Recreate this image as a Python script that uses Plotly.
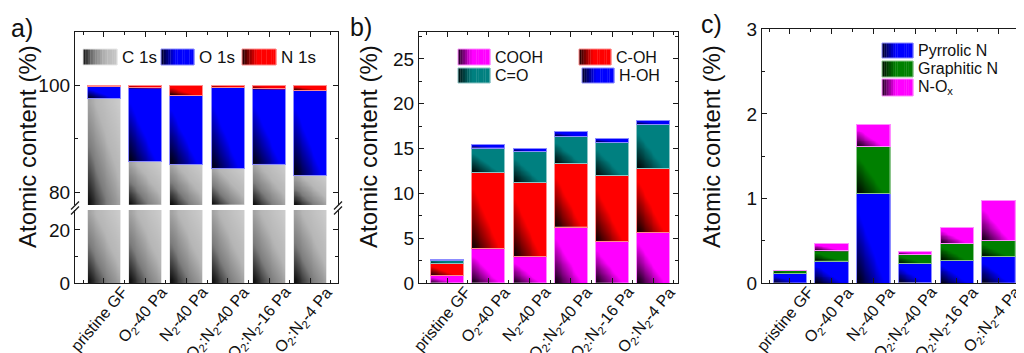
import numpy as np
import plotly.graph_objects as go

# page body has an 8px margin: the figure is drawn from (8, 8) of the 1024x353 window
OFF = 8
W, H = 1024 - OFF, 353 - OFF

# ---------------- data ----------------
categories = ['pristine GF', 'O<sub>2</sub>-40 Pa', 'N<sub>2</sub>-40 Pa',
              'O<sub>2</sub>:N<sub>2</sub>-40 Pa', 'O<sub>2</sub>:N<sub>2</sub>-16 Pa',
              'O<sub>2</sub>:N<sub>2</sub>-4 Pa']

# panel a) elemental composition (%)
c1s = [97.6, 85.7, 85.2, 84.4, 85.2, 83.2]
o1s = [2.26, 13.83, 12.92, 15.22, 14.13, 15.83]
n1s = [0.14, 0.47, 1.88, 0.38, 0.67, 0.97]

# panel b) oxygen groups (%)
cooh = [0.82, 3.83, 2.93, 6.24, 4.60, 5.65]
coh = [1.33, 8.54, 8.33, 7.06, 7.36, 7.17]
co = [0.38, 2.67, 3.41, 3.04, 3.72, 4.86]
hoh = [0.07, 0.38, 0.33, 0.56, 0.44, 0.45]

# panel c) nitrogen groups (%)
pyrrolic = [0.11, 0.26, 1.06, 0.23, 0.27, 0.31]
graphitic = [0.035, 0.12, 0.55, 0.11, 0.20, 0.19]
nox = [0.0, 0.09, 0.26, 0.03, 0.19, 0.47]

# ---------------- style ----------------
FONT = 'Liberation Sans, Arial, sans-serif'
AX = '#1a1a1a'
GREY, BLUE, RED, MAG, TEAL, GREEN = '#cacaca', '#0000ff', '#ff0000', '#ff00ff', '#008080', '#008000'
BW = 0.8

RANGE_A_UP = [77.6, 110]
RANGE_A_LO = [0, 27.5]
RANGE_B = [0, 28]
RANGE_C = [0, 3]
XR_A = [-0.7, 5.67]
XR_B = [-0.68, 5.6]
XR_C = [-0.67, 5.61]


def px_x(x):
    return (x - OFF) / W


def px_y(y):
    return 1 - (y - OFF) / H


def hex2rgb(h):
    h = h.lstrip('#')
    return tuple(int(h[i:i + 2], 16) for i in (0, 2, 4))


def tint(h, f=0.55):
    r, g, b = hex2rgb(h)
    return 'rgb(%d,%d,%d)' % (r + (255 - r) * f, g + (255 - g) * f, b + (255 - b) * f)


def scale_for(color):
    if color == GREY:
        return [[0, 'rgb(0,0,0)'], [0.3, 'rgb(125,125,125)'], [0.6, 'rgb(182,182,182)'], [1, 'rgb(206,206,206)']]
    return [[0, 'rgb(0,0,0)'], [0.42, color], [1, color]]


def to_rgb(c):
    if c.startswith('rgb'):
        return [float(v) for v in c[c.index('(') + 1:-1].split(',')]
    return [float(v) for v in hex2rgb(c)]


def eval_scale(sc, t):
    for (a, ca), (b, cb) in zip(sc[:-1], sc[1:]):
        if a <= t <= b:
            f = 0 if b == a else (t - a) / (b - a)
            pa, pb = to_rgb(ca), to_rgb(cb)
            return 'rgb(%d,%d,%d)' % tuple(pa[k] + (pb[k] - pa[k]) * f for k in range(3))
    return sc[-1][1]


traces = []


def seg_heat(xc, y0, y1, color, xa, ya, n=12):
    if y1 - y0 <= 1e-6:
        return
    xe = np.linspace(xc - BW / 2, xc + BW / 2, n + 1)
    ye = np.linspace(y0, y1, n + 1)
    u = (np.arange(n) + 0.5) / n
    z = u[None, :] + u[:, None]
    traces.append(go.Heatmap(x=xe, y=ye, z=z, zmin=0, zmax=2, colorscale=scale_for(color),
                             zsmooth='best', showscale=False, hoverinfo='skip',
                             xaxis=xa, yaxis=ya))


def stacked(series, colors, names, xa, ya, lo, hi):
    idx = np.arange(len(categories))
    base = np.zeros(len(categories))
    for vals, col, nm in zip(series, colors, names):
        vals = np.asarray(vals, dtype=float)
        for i in idx:
            y0 = max(base[i], lo)
            y1 = min(base[i] + vals[i], hi)
            if y1 > y0:
                seg_heat(i, y0, y1, col, xa, ya)
        traces.append(go.Bar(x=idx, y=vals, width=BW, name=nm, xaxis=xa, yaxis=ya,
                             marker=dict(color='rgba(0,0,0,0)', line=dict(color=tint(col), width=1)),
                             showlegend=False, hoverinfo='skip'))
        base = base + vals


stacked([c1s, o1s, n1s], [GREY, BLUE, RED], ['C 1s', 'O 1s', 'N 1s'], 'x', 'y', *RANGE_A_UP)
stacked([c1s], [GREY], ['C 1s'], 'x2', 'y2', *RANGE_A_LO)
stacked([cooh, coh, co, hoh], [MAG, RED, TEAL, BLUE], ['COOH', 'C-OH', 'C=O', 'H-OH'], 'x3', 'y3', *RANGE_B)
stacked([pyrrolic, graphitic, nox], [BLUE, GREEN, MAG], ['Pyrrolic N', 'Graphitic N', 'N-Ox'], 'x4', 'y4', *RANGE_C)

fig = go.Figure(traces)

idx = list(range(len(categories)))
minor_x = dict(tickmode='array', tickvals=[i + 0.5 for i in range(-1, 6)], ticks='inside',
               ticklen=3, tickwidth=1.2, tickcolor=AX, showgrid=False)


def xaxis(dom, rng, mirror='ticks', side='bottom', anchor=None):
    d = dict(domain=dom, range=rng, tickmode='array', tickvals=idx,
             ticks='inside', ticklen=5, tickwidth=1.2, tickcolor=AX,
             showline=True, linecolor=AX, linewidth=1.3, mirror=mirror, side=side,
             showgrid=False, zeroline=False, minor=minor_x, showticklabels=False,
             automargin=False, fixedrange=True)
    if anchor:
        d['anchor'] = anchor
    return d


def yaxis(dom, rng, dtick, mdtick, anchor):
    return dict(domain=dom, range=rng, anchor=anchor, tickmode='linear', tick0=0, dtick=dtick,
                ticks='inside', ticklen=5, tickwidth=1.2, tickcolor=AX,
                showline=True, linecolor=AX, linewidth=1.3, mirror='ticks',
                showgrid=False, zeroline=False,
                minor=dict(tickmode='linear', tick0=0, dtick=mdtick, ticks='inside', ticklen=3,
                           tickwidth=1.2, tickcolor=AX, showgrid=False),
                tickfont=dict(family=FONT, size=19, color='#111'), automargin=False, fixedrange=True)


XD_A = [px_x(75), px_x(338)]
XD_B = [px_x(419), px_x(678)]
XD_C = [px_x(762), 1.0]
YD_AU = [px_y(205), px_y(32)]
YD_AL = [px_y(283), px_y(210)]
YD_B = [px_y(283), px_y(32)]
YD_C = [px_y(283), px_y(29.3)]

fig.update_layout(
    width=W, height=H, margin=dict(l=0, r=0, t=0, b=0),
    paper_bgcolor='white', plot_bgcolor='rgba(0,0,0,0)',
    barmode='stack', bargap=0.2, showlegend=False,
    font=dict(family=FONT, color='#111'),
    xaxis=xaxis(XD_A, XR_A, mirror=False, side='top', anchor='y'),
    yaxis=yaxis(YD_AU, RANGE_A_UP, 20, 10, 'x'),
    xaxis2=xaxis(XD_A, XR_A, mirror=False, anchor='y2'),
    yaxis2=yaxis(YD_AL, RANGE_A_LO, 20, 10, 'x2'),
    xaxis3=xaxis(XD_B, XR_B, anchor='y3'),
    yaxis3=yaxis(YD_B, RANGE_B, 5, 2.5, 'x3'),
    xaxis4=xaxis(XD_C, XR_C, anchor='y4'),
    yaxis4=yaxis(YD_C, RANGE_C, 1, 0.5, 'x4'),
)

shapes = []
annotations = []

# axis-break marks on panel a
for xb in (75, 338):
    for yb in (205.5, 210.5):
        shapes.append(dict(type='line', xref='paper', yref='paper',
                           x0=px_x(xb - 4), y0=px_y(yb + 4), x1=px_x(xb + 4), y1=px_y(yb - 4),
                           line=dict(color=AX, width=1.3)))


def swatch(x0, x1, y0, y1, color, label, fsize=17, n=14):
    sc = scale_for(color)
    for k in range(n):
        t = (k + 0.5) / n
        shapes.append(dict(type='rect', xref='paper', yref='paper',
                           x0=px_x(x0 + (x1 - x0) * k / n), x1=px_x(x0 + (x1 - x0) * (k + 1) / n + 0.3),
                           y0=px_y(y1), y1=px_y(y0), line=dict(width=0),
                           fillcolor=eval_scale(sc, t * 0.85 + 0.05)))
    shapes.append(dict(type='rect', xref='paper', yref='paper', x0=px_x(x0), x1=px_x(x1),
                       y0=px_y(y1), y1=px_y(y0), line=dict(width=1, color=tint(color)),
                       fillcolor='rgba(0,0,0,0)'))
    annotations.append(dict(xref='paper', yref='paper', x=px_x(x1 + 3), y=px_y((y0 + y1) / 2),
                            text=label, showarrow=False, xanchor='left', yanchor='middle',
                            font=dict(family=FONT, size=fsize, color='#111')))


swatch(83, 117, 49, 65, GREY, 'C 1s')
swatch(161, 194, 49, 65, BLUE, 'O 1s')
swatch(242, 276, 49, 65, RED, 'N 1s')

swatch(458, 490, 49, 65, MAG, 'COOH', 16)
swatch(579, 611, 49, 65, RED, 'C-OH', 16)
swatch(458, 490, 68, 83, TEAL, 'C=O', 16)
swatch(582, 614, 68, 83, BLUE, 'H-OH', 16)

swatch(882, 913, 43, 58, BLUE, 'Pyrrolic N', 16)
swatch(882, 913, 61, 77, GREEN, 'Graphitic N', 16)
swatch(882, 913, 79, 96, MAG, 'N-O<sub>x</sub>', 16)

# rotated category labels: ends sit just right of each tick, just below the axis
LAB_DX = 29   # px right of tick for the rotated box's right edge
for dom, rng in ((XD_A, XR_A), (XD_B, XR_B), (XD_C, XR_C)):
    span_px = (dom[1] - dom[0]) * W
    for i, lab in enumerate(categories):
        xpix = dom[0] * W + (i - rng[0]) / (rng[1] - rng[0]) * span_px + LAB_DX
        annotations.append(dict(xref='paper', yref='paper', x=xpix / W, y=px_y(281),
                                text=lab, textangle=-50, showarrow=False,
                                xanchor='right', yanchor='top',
                                font=dict(family=FONT, size=16, color='#111')))

for xc in (27, 368, 711):
    annotations.append(dict(xref='paper', yref='paper', x=px_x(xc), y=px_y(147),
                            text='Atomic content (%)', textangle=-90, showarrow=False,
                            xanchor='center', yanchor='middle',
                            font=dict(family=FONT, size=24, color='#111')))

for lab, xc, yc in (('a)', 22, 28), ('b)', 361, 27), ('c)', 711, 24)):
    annotations.append(dict(xref='paper', yref='paper', x=px_x(xc), y=px_y(yc), text=lab,
                            showarrow=False, xanchor='center', yanchor='middle',
                            font=dict(family=FONT, size=25, color='#111')))

fig.update_layout(shapes=shapes, annotations=annotations)
fig.write_html('out.html')
